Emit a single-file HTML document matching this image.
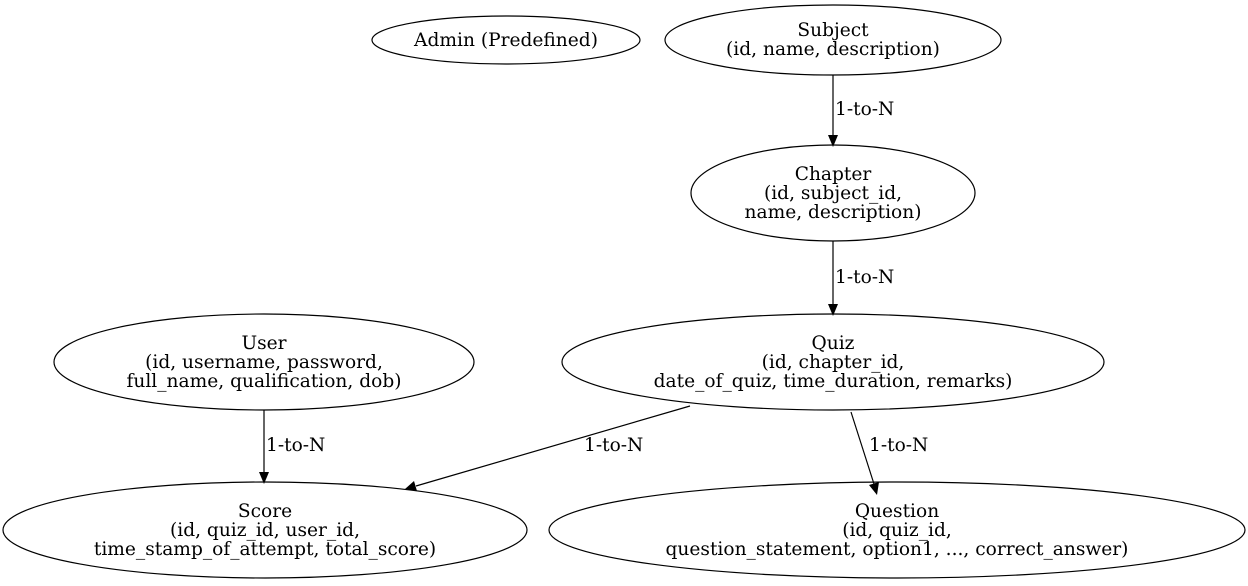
<!DOCTYPE html>
<html><head><style>body{margin:0;background:#fff}svg{display:block}text{font-family:"DejaVu Serif",serif;font-size:18.6px;fill:#000}</style></head>
<body>
<svg width="1248" height="586" viewBox="0 0 1248 586" xmlns="http://www.w3.org/2000/svg">
<g fill="none" stroke="#000" stroke-width="1.2">
<ellipse cx="506" cy="40" rx="134" ry="24"/>
<ellipse cx="833" cy="40" rx="168" ry="35"/>
<ellipse cx="833" cy="193" rx="142" ry="48"/>
<ellipse cx="264" cy="362" rx="210" ry="48"/>
<ellipse cx="833" cy="362" rx="271" ry="48"/>
<ellipse cx="265" cy="530" rx="262" ry="48"/>
<ellipse cx="897" cy="530" rx="348" ry="48"/>
<line x1="833" y1="75" x2="833" y2="135"/>
<line x1="833" y1="241" x2="833" y2="304"/>
<line x1="264" y1="410" x2="264" y2="472"/>
<line x1="690" y1="406" x2="416" y2="486"/>
<line x1="851" y1="412" x2="874" y2="484"/>
</g>
<g fill="#000">
<polygon points="828,135 838,135 833,147"/>
<polygon points="828,304 838,304 833,316"/>
<polygon points="259,472 269,472 264,484"/>
<polygon points="414,481 417,491 405,489"/>
<polygon points="869,485 879,482 877,495"/>
</g>
<g text-anchor="middle">
<text x="506" y="46">Admin (Predefined)</text>
<text x="833" y="36">Subject</text>
<text x="833" y="55">(id, name, description)</text>
<text x="833" y="180">Chapter</text>
<text x="833" y="199">(id, subject_id,</text>
<text x="833" y="218">name, description)</text>
<text x="264" y="349">User</text>
<text x="264" y="368">(id, username, password,</text>
<text x="264" y="387">full_name, qualification, dob)</text>
<text x="833" y="349">Quiz</text>
<text x="833" y="368">(id, chapter_id,</text>
<text x="833" y="387">date_of_quiz, time_duration, remarks)</text>
<text x="265" y="517">Score</text>
<text x="265" y="536">(id, quiz_id, user_id,</text>
<text x="265" y="555">time_stamp_of_attempt, total_score)</text>
<text x="897" y="517">Question</text>
<text x="897" y="536">(id, quiz_id,</text>
<text x="897" y="555">question_statement, option1, ..., correct_answer)</text>
</g>
<g>
<text x="835" y="115">1-to-N</text>
<text x="835" y="283">1-to-N</text>
<text x="266" y="451">1-to-N</text>
<text x="584" y="451">1-to-N</text>
<text x="869" y="451">1-to-N</text>
</g>
</svg>
</body></html>
